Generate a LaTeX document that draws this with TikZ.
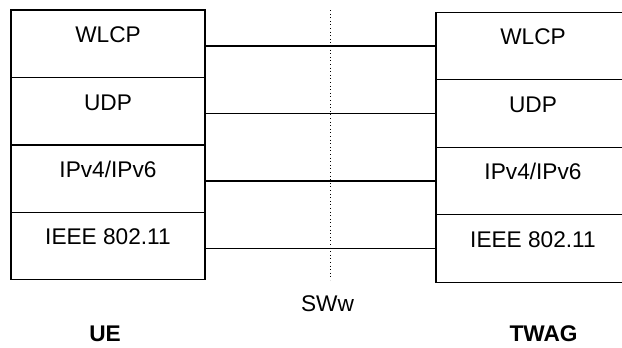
\documentclass[tikz,border=0pt]{standalone}
\usepackage{fontspec}
\setmainfont{Liberation Sans}
\usetikzlibrary{positioning}
\tikzset{
    layer/.style={draw, line width=0.9pt, inner sep=0pt, outer sep=0pt,
        minimum width=145.5pt, minimum height=50.6pt},
    layertext/.style={anchor=base, yshift=-24.4pt, font=\fontsize{17}{20}\selectfont},
    peer/.style={line width=0.9pt},
    caption/.style={inner sep=0pt, font=\fontsize{17}{20}\selectfont},
}

\begin{document}
\begin{tikzpicture}[x=0.75pt,y=-0.75pt]
    \path[use as bounding box, clip] (0,0) rectangle (622,347);

    % UE protocol stack
    \node[layer, label={[layertext]north:WLCP}] (ueWLCP) at (108,43.75) {};
    \node[layer, below=0pt of ueWLCP, label={[layertext]north:UDP}] (ueUDP) {};
    \node[layer, below=0pt of ueUDP, label={[layertext]north:IPv4/IPv6}] (ueIP) {};
    \node[layer, below=0pt of ueIP, label={[layertext]north:IEEE 802.11}] (ueWLAN) {};

    % TWAG protocol stack
    \node[layer, label={[layertext]north:WLCP}] (twWLCP) at (533,46) {};
    \node[layer, below=0pt of twWLCP, label={[layertext]north:UDP}] (twUDP) {};
    \node[layer, below=0pt of twUDP, label={[layertext]north:IPv4/IPv6}] (twIP) {};
    \node[layer, below=0pt of twIP, label={[layertext]north:IEEE 802.11}] (twWLAN) {};

    % Peer lines
    \draw[peer] (ueWLCP.east |- twWLCP) -- (twWLCP.west);
    \draw[peer] (ueUDP.east |- twUDP) -- (twUDP.west);
    \draw[peer] (ueIP.east |- twIP) -- (twIP.west);
    \draw[peer] (ueWLAN.east |- twWLAN) -- (twWLAN.west);

    % Reference point
    \coordinate (swTop) at (330,10);
    \coordinate (swBot) at (330,280);
    \draw[dotted, line width=0.7pt] (swTop) -- (swBot);

    % Annotations
    \node[caption, anchor=base] (sww) at (327.5,311.5) {SWw};
    \node[caption, anchor=base, font=\fontsize{17}{20}\selectfont\bfseries] (ue) at (105,341) {UE};
    \node[caption, anchor=base, font=\fontsize{17}{20}\selectfont\bfseries] (twag) at (543.5,341) {TWAG};
\end{tikzpicture}
\end{document}
